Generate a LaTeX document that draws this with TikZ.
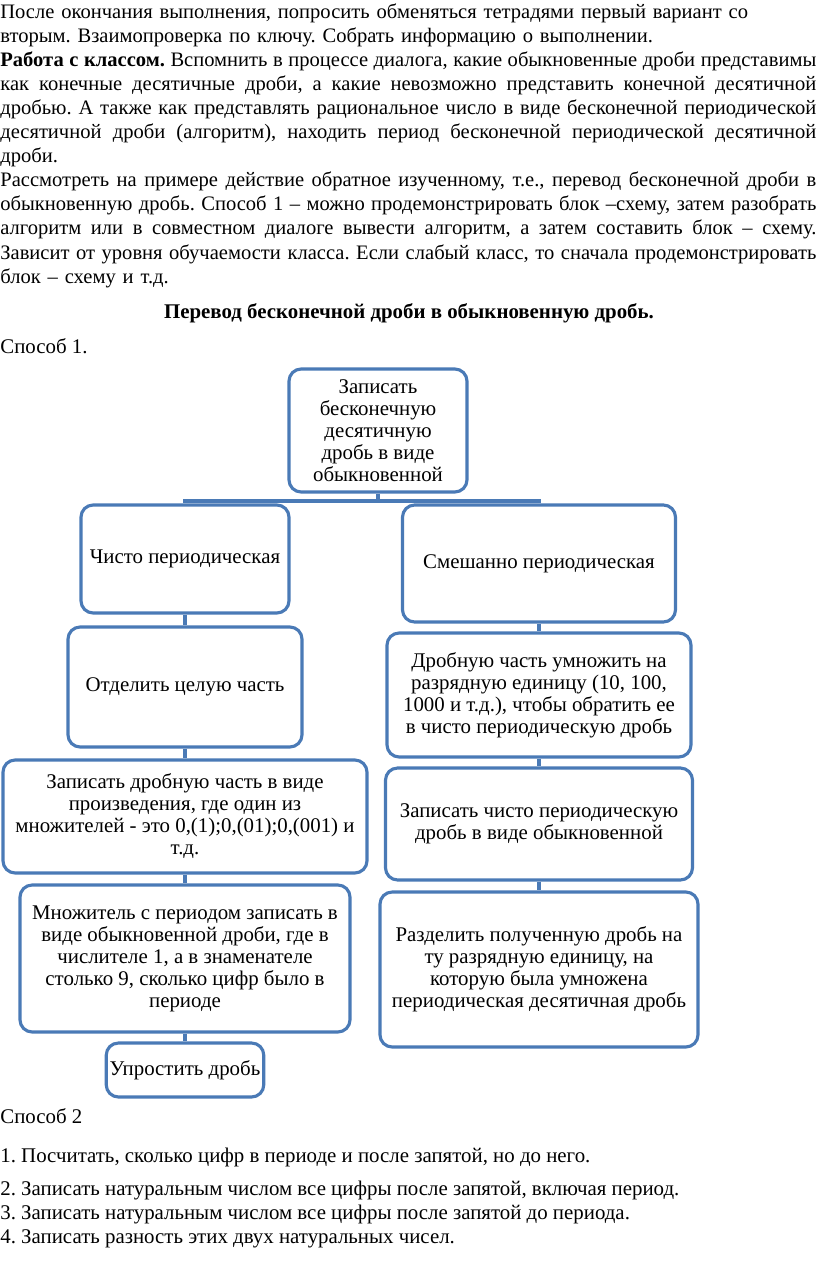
\documentclass[tikz,border=0pt]{standalone}
\usepackage{fontspec}
\setmainfont{Liberation Serif}
\definecolor{blockblue}{RGB}{74,122,182}
\newlength{\introwidth}
\setlength{\introwidth}{469.2pt}
\newcommand{\bodyfont}{\fontsize{12}{13.85}\selectfont\frenchspacing}
\newcommand{\introfont}{\fontsize{11.82}{13.85}\selectfont\frenchspacing}
\newcommand{\boxfont}{\fontsize{12}{12.65}\selectfont\frenchspacing}
\newcommand{\jline}[1]{\makebox[\introwidth][s]{\spaceskip=.25em plus .6em minus .13em\relax #1}}
\tikzset{
  blk/.style 2 args={draw=blockblue, line width=1.8pt, rounded corners=7pt, fill=white,
    align=center, inner sep=2pt, font=\boxfont,
    minimum width=#1*0.575pt, minimum height=#2*0.575pt},
  link/.style={draw=blockblue, line width=2.3pt},
}
\begin{document}
\begin{tikzpicture}[x=0.575pt, y=-0.575pt]
    \useasboundingbox (0,0) rectangle (816,1261);

    % текст над схемой
    \node[anchor=north west, inner sep=0pt, text width=\introwidth, align=left, font=\introfont] (intro) at (0,1) {%
\strut После окончания выполнения, попросить обменяться тетрадями первый вариант со\\
вторым. Взаимопроверка по ключу. Собрать информацию о выполнении.\\
\jline{\textbf{Работа с классом.} Вспомнить в процессе диалога, какие обыкновенные дроби представимы}\\
\jline{как конечные десятичные дроби, а какие невозможно представить конечной десятичной}\\
\jline{дробью. А также как представлять рациональное число в виде бесконечной периодической}\\
\jline{десятичной дроби (алгоритм), находить период бесконечной периодической десятичной}\\
дроби.\\
\jline{Рассмотреть на примере действие обратное изученному, т.е., перевод бесконечной дроби в}\\
\jline{обыкновенную дробь. Способ 1 – можно продемонстрировать блок –схему, затем разобрать}\\
\jline{алгоритм или в совместном диалоге вывести алгоритм, а затем составить блок – схему.}\\
\jline{Зависит от уровня обучаемости класса. Если слабый класс, то сначала продемонстрировать}\\
блок – схему и т.д.};

    \node[anchor=base, font=\bodyfont\bfseries] (title) at (409,318) {Перевод бесконечной дроби в обыкновенную дробь.};
    \node[anchor=base west, inner sep=0pt, font=\bodyfont] (way1) at (0,353) {Способ 1.};

    % блок-схема
    \node[blk={178}{123}] (top) at (378,430.5) {Записать\\бесконечную\\десятичную\\дробь в виде\\обыкновенной};

    \node[blk={208}{108}] (l1) at (185,559) {Чисто периодическая};
    \node[blk={234}{120}] (l2) at (185,687) {Отделить целую часть};
    \node[blk={364}{113}] (l3) at (185,816.5) {Записать дробную часть в виде\\произведения, где один из\\множителей - это 0,(1);0,(01);0,(001) и\\т.д.};
    \node[blk={330}{147}] (l4) at (185,958.5) {Множитель с периодом записать в\\виде обыкновенной дроби, где в\\числителе 1, а в знаменателе\\столько 9, сколько цифр было в\\периоде};
    \node[blk={156}{54}] (l5) at (185,1070) {Упростить дробь};

    \node[blk={273}{117}] (r1) at (539,563.5) {Смешанно периодическая};
    \node[blk={304}{124}] (r2) at (539,695) {Дробную часть умножить на\\разрядную единицу (10, 100,\\1000 и т.д.), чтобы обратить ее\\в чисто периодическую дробь};
    \node[blk={307}{112}] (r3) at (539,824) {Записать чисто периодическую\\дробь в виде обыкновенной};
    \node[blk={318}{155}] (r4) at (539,969.5) {Разделить полученную дробь на\\ту разрядную единицу, на\\которую была умножена\\периодическая десятичная дробь};

    % связи
    \draw[link] (top.south) -- ++(0,7) -| (l1.north);
    \draw[link] (top.south) -- ++(0,7) -| (r1.north);
    \draw[link] (l1) -- (l2);
    \draw[link] (l2) -- (l3);
    \draw[link] (l3) -- (l4);
    \draw[link] (l4) -- (l5);
    \draw[link] (r1) -- (r2);
    \draw[link] (r2) -- (r3);
    \draw[link] (r3) -- (r4);

    % способ 2
    \node[anchor=base west, inner sep=0pt, font=\bodyfont] (way2) at (0,1123) {Способ 2};
    \node[anchor=base west, inner sep=0pt, font=\bodyfont] (s1) at (0,1162) {1. Посчитать, сколько цифр в периоде и после запятой, но до него.};
    \node[anchor=base west, inner sep=0pt, font=\bodyfont] (s2) at (0,1195) {2. Записать натуральным числом все цифры после запятой, включая период.};
    \node[anchor=base west, inner sep=0pt, font=\bodyfont] (s3) at (0,1219) {3. Записать натуральным числом все цифры после запятой до периода.};
    \node[anchor=base west, inner sep=0pt, font=\bodyfont] (s4) at (0,1243) {4. Записать разность этих двух натуральных чисел.};
\end{tikzpicture}
\end{document}
